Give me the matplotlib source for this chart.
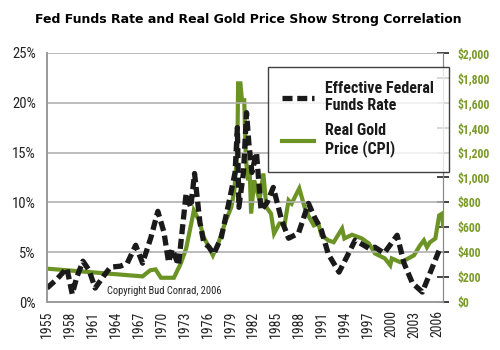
import matplotlib
matplotlib.use("Agg")
import matplotlib.pyplot as plt
import numpy as np

# effective fed funds rate, %
ff_year = [1955.0, 1956.3, 1957.6, 1958.3, 1958.9, 1959.7, 1960.5, 1961.3, 1962.4, 1963.3,
           1964.6, 1965.5, 1966.6, 1967.5, 1968.6, 1969.5, 1970.3, 1970.9, 1971.4, 1972.2,
           1973.2, 1973.8, 1974.3, 1975.0, 1975.5, 1976.2, 1976.8, 1977.8, 1978.8, 1979.6,
           1979.9, 1980.1, 1980.7, 1981.1, 1981.4, 1981.8, 1982.4, 1983.0, 1983.8, 1984.6,
           1985.7, 1986.6, 1987.9, 1989.2, 1990.0, 1990.9, 1991.8, 1993.2, 1994.2, 1995.3,
           1997.1, 1997.9, 1999.1, 2000.8, 2001.7, 2002.8, 2004.1, 2005.1, 2006.3]
ff_rate = [1.4, 2.3, 3.4, 0.8, 2.5, 4.1, 3.2, 1.4, 2.6, 3.5,
           3.6, 3.9, 5.7, 3.9, 6.5, 9.1, 7.0, 4.0, 5.3, 3.7,
           10.9, 9.5, 12.9, 8.0, 6.0, 5.5, 4.8, 6.5, 10.0, 13.0,
           17.5, 9.5, 13.0, 19.0, 16.0, 13.0, 15.0, 9.2, 10.0, 11.5,
           8.2, 6.4, 6.9, 9.9, 8.5, 7.2, 4.8, 3.0, 4.5, 6.2,
           5.4, 5.5, 4.9, 6.7, 3.9, 1.9, 1.0, 2.9, 5.2]

# real gold price (CPI adjusted), $
gold_year = [1955.0, 1967.5, 1968.5, 1969.2, 1969.9, 1971.6, 1972.5, 1973.2, 1974.1, 1974.2,
             1974.9, 1975.5, 1976.2, 1976.7, 1977.4, 1978.4, 1979.1, 1979.5, 1979.9, 1980.0,
             1980.3, 1980.5, 1980.8, 1981.0, 1981.3, 1981.5, 1981.7, 1982.1, 1982.8, 1983.3,
             1983.7, 1984.3, 1984.7, 1985.4, 1986.1, 1986.6, 1987.0, 1987.4, 1988.0, 1988.7,
             1989.3, 1989.9, 1990.5, 1990.9, 1991.8, 1992.5, 1993.6, 1993.9, 1994.9, 1996.2,
             1997.1, 1997.9, 1999.2, 1999.9, 2000.1, 2001.2, 2001.8, 2003.0, 2003.8, 2004.3,
             2004.7, 2005.1, 2005.8, 2006.3, 2006.7, 2006.8]
gold_price = [268, 206, 255, 262, 195, 195, 310, 430, 700, 735,
              655, 520, 440, 375, 470, 655, 760, 895, 1220, 1755,
              1755, 1620, 1620, 1160, 977, 1080, 710, 977, 816, 1032,
              760, 710, 550, 630, 630, 816, 790, 840, 912, 760,
              680, 615, 630, 535, 495, 480, 590, 510, 540, 510,
              470, 390, 350, 295, 350, 320, 335, 375, 455, 495,
              440, 480, 510, 695, 710, 615]

year_ticks = list(range(1955, 2007, 3))
pct_ticks = [0, 5, 10, 15, 20, 25]
usd_ticks = list(range(0, 2001, 200))

green = "#6b9424"
narrow = ["Roboto Condensed", "DejaVu Sans"]

fig = plt.figure(figsize=(5, 3.5), dpi=100)
ax = fig.add_axes([0.094, 0.137, 0.792, 0.712])
ax2 = ax.twinx()
# green series on the right axis, drawn under the dashed line
ax.set_zorder(ax2.get_zorder() + 1)
ax.patch.set_visible(False)

g_line, = ax2.plot(gold_year, gold_price, color=green, lw=3.0, solid_joinstyle="miter")
f_line, = ax.plot(ff_year, ff_rate, color="#1a1a1a", lw=3.8, dashes=(1.9, 0.9),
                  dash_capstyle="butt", dash_joinstyle="round")

ax.set_xlim(1955, 2006.8)
ax.set_ylim(0, 25)
ax2.set_ylim(0, 2000)

ax.set_yticks(pct_ticks)
ax.set_yticklabels([f"{v}%" for v in pct_ticks], family=narrow, fontsize=10.5, color="#222222")
ax.tick_params(axis="y", length=0, pad=8)
ax.yaxis.grid(True, color="#b0b0b0", lw=1.2)
ax.set_axisbelow(True)

ax.set_xticks(year_ticks)
ax.set_xticklabels([str(y) for y in year_ticks], rotation=90, family=narrow, fontsize=10,
                   color="#222222")
ax.tick_params(axis="x", length=0, pad=6)

ax2.set_yticks(usd_ticks)
ax2.set_yticklabels([f"${v:,}" for v in usd_ticks], family=narrow, fontsize=8.5,
                    fontweight="bold", color="#7a9a2a")
ax2.tick_params(axis="y", direction="inout", length=9, width=1.2, color="#222222", pad=6)

for a in (ax, ax2):
    a.spines["top"].set_visible(False)
    a.spines["left"].set_color("#999999")
    a.spines["bottom"].set_color("#999999")
    a.spines["right"].set_color("#888888")
    a.spines["left"].set_linewidth(1.2)
    a.spines["bottom"].set_linewidth(1.2)

leg = ax.legend([f_line, g_line], ["Effective Federal\nFunds Rate", "Real Gold\nPrice (CPI)"],
                loc="upper left", bbox_to_anchor=(0.558, 0.945), frameon=True, fancybox=False,
                handlelength=2.0, handletextpad=0.7, labelspacing=0.6, borderpad=0.9,
                borderaxespad=0, prop={"family": narrow, "weight": "bold", "size": 11.5})
leg.get_frame().set_edgecolor("#111111")
leg.get_frame().set_linewidth(1.0)
for t in leg.get_texts():
    t.set_color("#1a1a1a")

ax.text(1970.4, 1.1, "Copyright Bud Conrad, 2006", family=narrow, fontsize=7.5,
        color="#222222", ha="center", va="center")

fig.text(0.496, 0.943, "Fed Funds Rate and Real Gold Price Show Strong Correlation",
         ha="center", va="center", fontsize=9, fontweight="bold", family="DejaVu Sans")

fig.savefig("out.png", dpi=100, facecolor="white")
